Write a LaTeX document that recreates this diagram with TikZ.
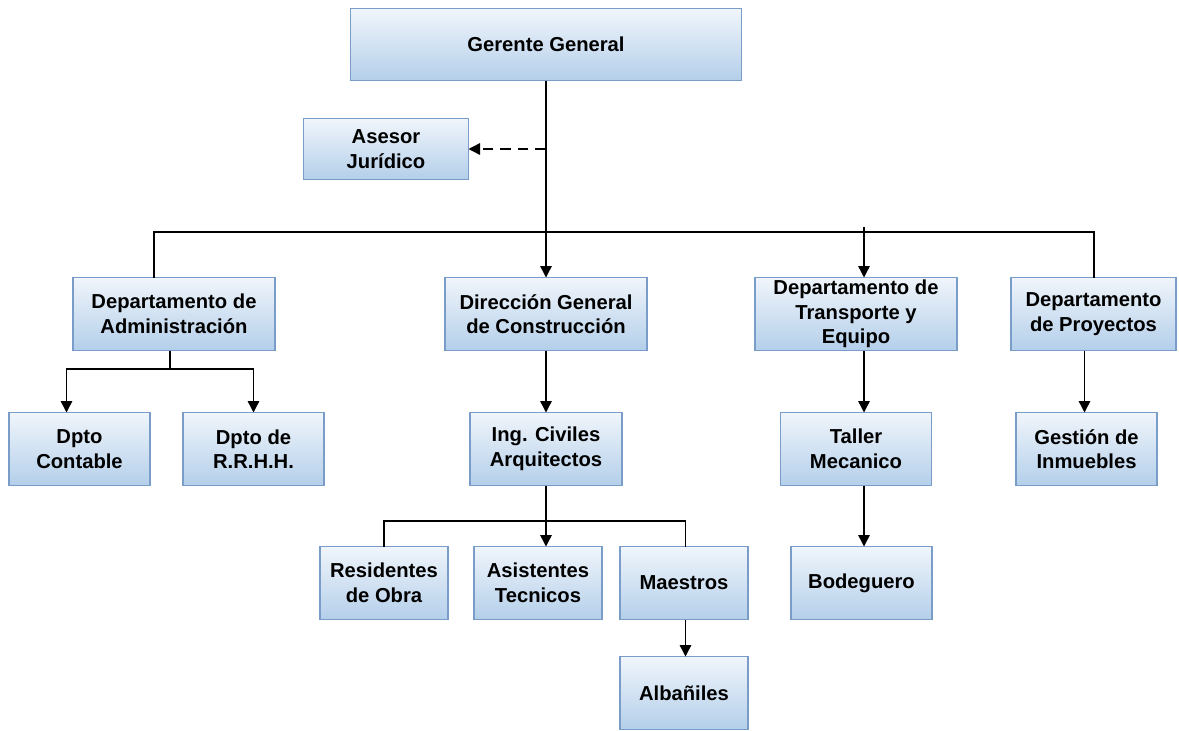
\documentclass[tikz,border=0pt]{standalone}
\usepackage{fontspec}
\setmainfont{Liberation Sans}
\usepackage{xcolor}
\usepackage{tikz}
\usetikzlibrary{positioning,arrows.meta}
\definecolor{boxedge}{RGB}{122,156,200}
\definecolor{boxtop}{RGB}{240,245,251}
\definecolor{boxbottom}{RGB}{180,207,234}
\tikzset{
  unit/.style={draw=boxedge, line width=0.8pt, top color=boxtop, bottom color=boxbottom,
               minimum width=2.82cm, minimum height=1.46cm, inner sep=1pt, outer sep=0pt,
               align=center, font=\fontsize{11.5pt}{14pt}\selectfont\bfseries},
  link/.style={line width=0.8pt},
  arrow/.style={link, -{Triangle[length=2.3mm, width=2.3mm]}},
}

\begin{document}
\begin{tikzpicture}
  \useasboundingbox (0,0) rectangle (23.58,-14.6);
  \node[unit, minimum width=7.82cm, minimum height=1.44cm] (gg) at (10.92,-0.89) {Gerente General};
  \node[unit, minimum width=3.3cm, minimum height=1.22cm, below left=0.76cm and -2.36cm of gg] (asesor) {Asesor\\Jurídico};
  \node[unit, minimum width=4.04cm, below=3.94cm of gg] (dir) {Dirección General\\de Construcción};
  \node[unit, minimum width=4.04cm, left=3.4cm of dir] (adm) {Departamento de\\Administración};
  \node[unit, minimum width=4.04cm, right=2.16cm of dir] (trans) {Departamento de\\Transporte y\\Equipo};
  \node[unit, minimum width=3.3cm, right=1.08cm of trans] (proy) {Departamento\\de Proyectos};
  \node[unit, below left=1.24cm and -1.54cm of adm] (cont) {Dpto\\Contable};
  \node[unit, right=0.66cm of cont] (rrhh) {Dpto de\\R.R.H.H.};
  \node[unit, minimum width=3.04cm, below=1.24cm of dir] (ing) {Ing. Civiles\\Arquitectos};
  \node[unit, minimum width=3.02cm, below=1.24cm of trans] (taller) {Taller\\Mecanico};
  \node[unit, below=1.24cm of proy, xshift=-0.14cm] (gest) {Gestión de\\Inmuebles};
  \node[unit, minimum width=2.56cm, below=1.22cm of ing, xshift=-0.16cm] (asist) {Asistentes\\Tecnicos};
  \node[unit, minimum width=2.56cm, left=0.52cm of asist] (resid) {Residentes\\de Obra};
  \node[unit, minimum width=2.56cm, right=0.36cm of asist] (maes) {Maestros};
  \node[unit, minimum width=2.56cm, below=0.74cm of maes] (alb) {Albañiles};
  \node[unit, below=1.22cm of taller, xshift=0.11cm] (bod) {Bodeguero};

  % bus lines
  \coordinate (busL) at (3.08,-4.64);
  \coordinate (busR) at (21.88,-4.64);
  \coordinate (colT) at (17.28,-4.54);
  \coordinate (busA) at (3.40,-7.38);
  \coordinate (busI) at (10.92,-10.42);

  \draw[arrow] (gg.south) -- (gg.south |- dir.north);
  \draw[arrow, dash pattern=on 6pt off 4pt] (gg.south |- asesor.east) -- (asesor.east);
  \draw[link] (busL |- adm.north) -- (busL) -- (busR) -- (busR |- proy.north);
  \draw[arrow] (colT) -- (colT |- trans.north);
  \draw[arrow] (colT |- trans.south) -- (colT |- taller.north);
  \draw[arrow] (colT |- taller.south) -- (colT |- bod.north);
  \draw[link] (busA |- adm.south) -- (busA);
  \draw[arrow] (busA) -| (rrhh.north);
  \draw[arrow] (busA) -| ([xshift=-0.26cm]cont.north);
  \draw[arrow] (dir.south) -- (dir.south |- ing.north);
  \draw[arrow] (ing.south) -- (ing.south |- asist.north);
  \draw[link] (resid.north) |- (busI) -| ([xshift=0.03cm]maes.north);
  \draw[arrow] ([xshift=0.03cm]maes.south) -- ([xshift=0.03cm]alb.north);
  \draw[arrow] ([xshift=-0.04cm]gest.north |- proy.south) -- ([xshift=-0.04cm]gest.north);
\end{tikzpicture}
\end{document}
